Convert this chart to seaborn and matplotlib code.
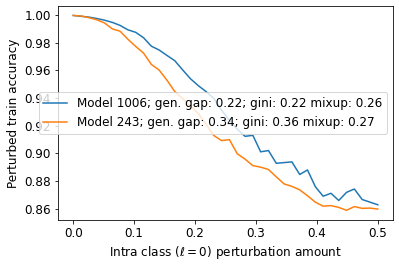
import numpy as np
import pandas as pd
import matplotlib
matplotlib.use("Agg")
import matplotlib.pyplot as plt
import seaborn as sns

# perturbation amounts (40 steps from 0 to 0.5)
amount = np.linspace(0, 0.5, 40)

acc_1006 = [0.9998, 0.9992, 0.9986, 0.9976, 0.9964, 0.9948, 0.9926, 0.9894, 0.9876, 0.9837,
            0.9776, 0.9748, 0.9709, 0.9671, 0.9605, 0.9541, 0.9491, 0.9448, 0.9398, 0.9312,
            0.9241, 0.9176, 0.9124, 0.9131, 0.9012, 0.9021, 0.8929, 0.8934, 0.8939, 0.8848,
            0.8881, 0.8760, 0.8691, 0.8712, 0.8660, 0.8719, 0.8743, 0.8667, 0.8648, 0.8629]

acc_243 = [0.9998, 0.9994, 0.9982, 0.9967, 0.9944, 0.9901, 0.9884, 0.9826, 0.9774, 0.9726,
           0.9644, 0.9603, 0.9530, 0.9448, 0.9398, 0.9341, 0.9291, 0.9212, 0.9130, 0.9093,
           0.9100, 0.8998, 0.8959, 0.8912, 0.8901, 0.8884, 0.8831, 0.8780, 0.8762, 0.8737,
           0.8694, 0.8648, 0.8619, 0.8623, 0.8610, 0.8589, 0.8616, 0.8603, 0.8605, 0.8598]

labels = ["Model 1006; gen. gap: 0.22; gini: 0.22 mixup: 0.26",
          "Model 243; gen. gap: 0.34; gini: 0.36 mixup: 0.27"]

df1 = pd.DataFrame({"amount": amount, "acc": acc_1006})
df2 = pd.DataFrame({"amount": amount, "acc": acc_243})

plt.rcParams["font.size"] = 12
fig, ax = plt.subplots(figsize=(399 / 72, 272 / 72), dpi=72)
fig.subplots_adjust(left=0.1454, right=0.985, bottom=0.191, top=0.979)

sns.lineplot(data=df1, x="amount", y="acc", color="tab:blue", label=labels[0], ax=ax)
sns.lineplot(data=df2, x="amount", y="acc", color="tab:orange", label=labels[1], ax=ax)

ax.set_xlabel(r"Intra class ($\ell = 0$) perturbation amount")
ax.set_ylabel("Perturbed train accuracy")
ax.set_yticks([0.86, 0.88, 0.90, 0.92, 0.94, 0.96, 0.98, 1.00])
ax.legend(loc="center right")

fig.savefig("out.png", dpi=72)
